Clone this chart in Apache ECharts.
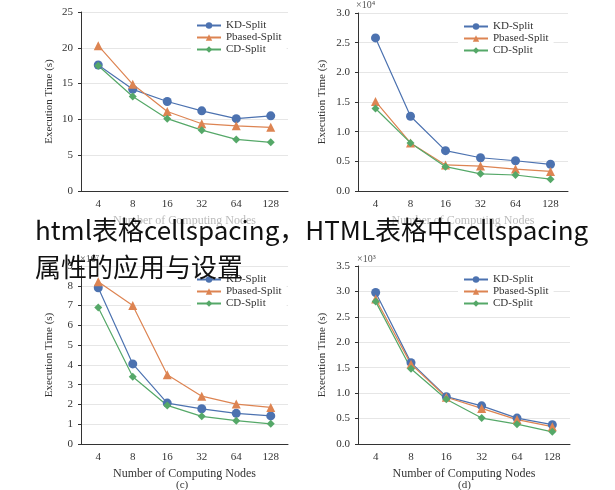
<!DOCTYPE html>
<html lang="en">
<head>
    <meta charset="UTF-8">
    <title>Execution Time</title>
    <script src="https://cdn.jsdelivr.net/npm/echarts@6/dist/echarts.min.js"></script>
</head>
<body style="margin:0;background:#fff">
<div id="main" style="width:615px;height:490px;"></div>
<script>
    // categories and series values (panels a-d)
    var nodes = ['4', '8', '16', '32', '64', '128'];
    var names = ['KD-Split', 'Pbased-Split', 'CD-Split'];

    var kdA = [17.6, 14.2, 12.5, 11.2, 10.1, 10.5];
    var pbA = [20.3, 14.9, 11.1, 9.4, 9.1, 8.9];
    var cdA = [17.5, 13.2, 10.1, 8.5, 7.2, 6.8];

    var kdB = [2.58, 1.26, 0.68, 0.56, 0.51, 0.45];
    var pbB = [1.51, 0.81, 0.44, 0.42, 0.37, 0.33];
    var cdB = [1.39, 0.81, 0.41, 0.29, 0.27, 0.20];

    var kdC = [7.9, 4.05, 2.07, 1.78, 1.55, 1.42];
    var pbC = [8.2, 7.0, 3.5, 2.42, 2.02, 1.85];
    var cdC = [6.9, 3.4, 1.95, 1.4, 1.18, 1.02];

    var kdD = [2.98, 1.6, 0.93, 0.75, 0.51, 0.38];
    var pbD = [2.85, 1.57, 0.92, 0.70, 0.48, 0.34];
    var cdD = [2.80, 1.48, 0.88, 0.51, 0.39, 0.24];

    var colors = ['#4c72b0', '#dd8452', '#55a868'];
    var symbols = ['circle', 'triangle', 'diamond'];
    var sizes = [9, 9, 8];
    var serif = 'Liberation Serif';

    var grids = [
        {left: 81, top: 12, width: 207, height: 179},
        {left: 358, top: 13, width: 210, height: 178},
        {left: 81, top: 266, width: 207, height: 178},
        {left: 358, top: 266, width: 212, height: 178}
    ];
    var yMax = [25, 3, 9, 3.5];
    var yInt = [5, 0.5, 1, 0.5];
    var yFmt = [0, 1, 0, 1];
    var data = [[kdA, pbA, cdA], [kdB, pbB, cdB], [kdC, pbC, cdC], [kdD, pbD, cdD]];

    var xAxis = [], yAxis = [], series = [], legend = [];
    grids.forEach(function (g, i) {
        xAxis.push({
            type: 'category', gridIndex: i, data: nodes,
            name: 'Number of Computing Nodes', nameLocation: 'middle', nameGap: 24,
            nameTextStyle: {fontFamily: serif, fontSize: 12, color: i < 2 ? '#bbb' : '#333'},
            axisLine: {lineStyle: {color: '#333'}},
            axisTick: {inside: false, length: 4},
            axisLabel: {fontFamily: serif, fontSize: 11, color: '#333'}
        });
        yAxis.push({
            type: 'value', gridIndex: i, min: 0, max: yMax[i], interval: yInt[i],
            name: 'Execution Time (s)', nameLocation: 'middle', nameGap: i % 2 ? 30 : 26,
            nameTextStyle: {fontFamily: serif, fontSize: 11, color: '#333'},
            axisLine: {show: true, lineStyle: {color: '#333'}},
            axisTick: {show: true, length: 3},
            splitLine: {lineStyle: {color: '#e6e6e6'}},
            axisLabel: {fontFamily: serif, fontSize: 11, color: '#333', formatter: function (v) { return v.toFixed(yFmt[i]); }}
        });
        legend.push({
            data: names, orient: 'vertical', left: g.left + (i % 2 ? 100 : 110), top: g.top + 3,
            itemGap: 1, itemWidth: 24, itemHeight: 8, backgroundColor: '#fff',
            textStyle: {fontFamily: serif, fontSize: 11, color: '#333'}
        });
        for (var k = 0; k < 3; k++) {
            series.push({
                name: names[k], type: 'line', xAxisIndex: i, yAxisIndex: i,
                data: data[i][k], symbol: symbols[k], symbolSize: sizes[k],
                itemStyle: {color: colors[k]}, lineStyle: {width: 1.2, color: colors[k]}
            });
        }
    });

    var chart = echarts.init(document.getElementById('main'));
    chart.setOption({
        backgroundColor: '#fff',
        animation: false,
        grid: grids,
        xAxis: xAxis,
        yAxis: yAxis,
        legend: legend,
        series: series,
        graphic: [
            {type: 'text', left: 356, top: 0, style: {text: '×10⁴', font: '10px Liberation Serif', fill: '#555'}},
            {type: 'text', left: 80, top: 254, style: {text: '×10⁷', font: '10px Liberation Serif', fill: '#555'}},
            {type: 'text', left: 357, top: 254, style: {text: '×10³', font: '10px Liberation Serif', fill: '#555'}},
            {type: 'text', left: 176, top: 480, style: {text: '(c)', font: '11px Liberation Serif', fill: '#333'}},
            {type: 'text', left: 458, top: 480, style: {text: '(d)', font: '11px Liberation Serif', fill: '#333'}},
            {type: 'text', z: 100, left: 35, top: 217, style: {text: 'html表格cellspacing，HTML表格中cellspacing', font: '26px "Noto Sans CJK SC"', fill: '#111'}},
            {type: 'text', z: 100, left: 35, top: 254, style: {text: '属性的应用与设置', font: '26px "Noto Sans CJK SC"', fill: '#111'}}
        ]
    });
</script>
</body>
</html>
